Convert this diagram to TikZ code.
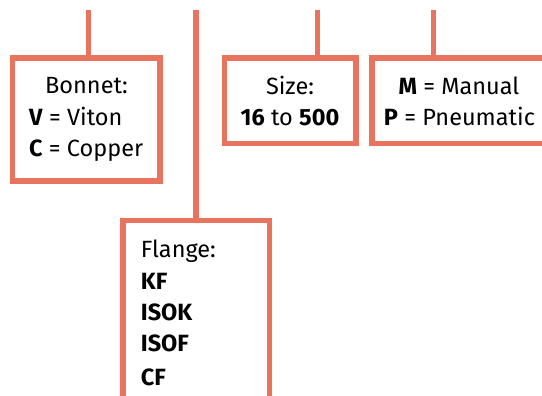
\documentclass[tikz,border=0pt]{standalone}
\usepackage{fontspec}
\setmainfont{Fira Sans}
\definecolor{boxred}{RGB}{232,116,96}
\begin{document}
\begin{tikzpicture}[x=1pt,y=-1pt,
  box/.style={draw=boxred,line width=5.5pt,rectangle,inner sep=0pt,outer sep=0pt},
  conn/.style={draw=boxred,line width=5.5pt},
  txt/.style={inner sep=0pt,font=\fontsize{23.5}{28}\selectfont,text=black},
  lt/.style={txt,anchor=base west},
  ct/.style={txt,anchor=base}]
\useasboundingbox (0,0) rectangle (542,396);
\clip (0,0) rectangle (542,396);
% boxes
\node[box,minimum width=147.5pt,minimum height=123pt] (bonnet) at (86.25,119.5) {};
\node[box,minimum width=131.5pt,minimum height=85.5pt] (size) at (290.25,100.75) {};
\node[box,minimum width=248pt,minimum height=85.5pt] (mode) at (496,100.75) {};
\node[box,minimum width=146.5pt,minimum height=229.5pt] (flange) at (196.25,335.25) {};
% connector tops
\coordinate (t1) at (88.5,10);
\coordinate (t2) at (196,10);
\coordinate (t3) at (317.7,10);
\coordinate (t4) at (433.3,10);
\draw[conn] (t1) -- (t1 |- bonnet.north);
\draw[conn] (t2) -- (t2 |- flange.north);
\draw[conn] (t3) -- (t3 |- size.north);
\draw[conn] (t4) -- (t4 |- mode.north);
% texts
\node[ct] (b0) at (86.5,94) {Bonnet:};
\node[lt] (b1) at (29,126) {\textbf{V} = Viton};
\node[lt] (b2) at (29,157) {\textbf{C} = Copper};
\node[ct] (s0) at (290,95) {Size:};
\node[ct] (s1) at (290,126) {\textbf{16} to \textbf{500}};
\node[ct] (m0) at (459,95) {\textbf{M} = Manual};
\node[ct] (m1) at (459.5,126) {\textbf{P} = Pneumatic};
\node[lt] (f0) at (140.7,258) {Flange:};
\node[lt] (f1) at (140.7,289) {\textbf{KF}};
\node[lt] (f2) at (140.7,320.5) {\textbf{ISOK}};
\node[lt] (f3) at (140.7,352) {\textbf{ISOF}};
\node[lt] (f4) at (140.7,385) {\textbf{CF}};
\end{tikzpicture}
\end{document}
